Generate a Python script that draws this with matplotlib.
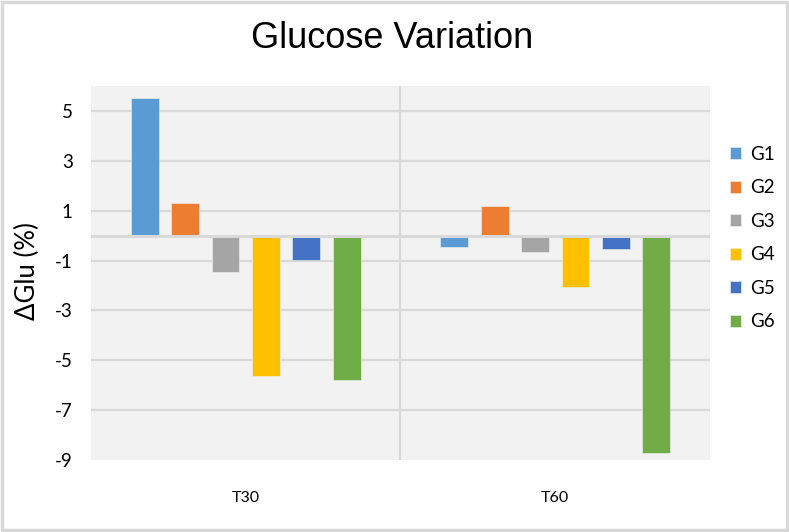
import numpy as np
import matplotlib.pyplot as plt
from matplotlib.patches import Rectangle

# data
timepoints = ["T30", "T60"]
groups = ["G1", "G2", "G3", "G4", "G5", "G6"]
g1 = [5.5, -0.44]
g2 = [1.32, 1.17]
g3 = [-1.47, -0.67]
g4 = [-5.65, -2.06]
g5 = [-0.97, -0.54]
g6 = [-5.8, -8.73]
colors = ["#5b9bd5", "#ed7d31", "#a5a5a5", "#ffc000", "#4472c4", "#70ad47"]

series = [g1, g2, g3, g4, g5, g6]

plt.rcParams["axes.unicode_minus"] = False

fig = plt.figure(figsize=(7.89, 5.32), dpi=100)
fig.patch.set_facecolor("white")
# chart border
fig.add_artist(Rectangle((0.002, 0.003), 0.996, 0.994, transform=fig.transFigure,
                         fill=False, edgecolor="#d9d9d9", linewidth=2.5))

ax = fig.add_axes([0.1153, 0.1353, 0.7846, 0.7030])
ax.set_facecolor("#f2f2f2")

x = np.arange(len(timepoints))
pitch = 0.1306
width = 0.09
for i, (vals, c, name) in enumerate(zip(series, colors, groups)):
    ax.bar(x + (i - 2.5) * pitch, vals, width, color=c, label=name,
           edgecolor="#f2f2f2", linewidth=0.4, zorder=3)

ax.set_xlim(-0.5, 1.5)
ax.set_ylim(-9, 6)
ax.set_yticks(np.arange(-9, 6, 2))
ax.set_xticks(x)
ax.set_xticklabels(timepoints, fontsize=11.5, family="Lato")
for lab in ax.get_yticklabels():
    lab.set_family("Lato")
ax.tick_params(axis="y", labelsize=13.5, length=0, pad=13)
ax.tick_params(axis="x", length=0, pad=22)

for v in np.arange(-7, 6, 2):
    ax.axhline(v, color="#d9d9d9", linewidth=1.6, zorder=1)
ax.axhline(0, color="#d9d9d9", linewidth=2.2, zorder=4)
ax.axvline(0.5, color="#d9d9d9", linewidth=1.6, zorder=1)

for s in ax.spines.values():
    s.set_visible(False)

fig.text(0.035, 0.49, "ΔGlu (%)", rotation=90, ha="center", va="center",
         fontsize=18.5, family="Lato")
fig.text(0.497, 0.928, "Glucose Variation", ha="center", va="center",
         fontsize=26, family="Liberation Sans")

leg = ax.legend(loc="upper left", bbox_to_anchor=(1.005, 0.885), frameon=False,
                prop={"family": "Lato", "size": 13.5}, handlelength=0.6,
                handleheight=0.6, labelspacing=0.88, handletextpad=0.45)

fig.savefig("out.png", dpi=100)
